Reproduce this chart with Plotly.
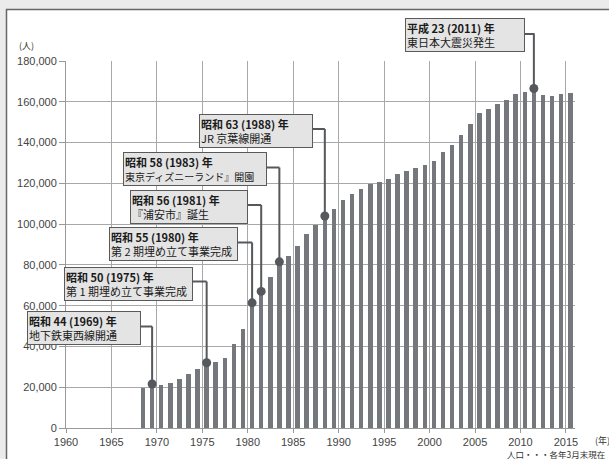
import plotly.graph_objects as go

# ---------------- data ----------------
years = list(range(1968, 2016))
population = [19700, 21600, 21000, 22200, 24100, 26600, 28900, 32000, 32300, 34200,
              41200, 48400, 61400, 67000, 74000, 81500, 84300, 89400, 95200, 99500,
              104000, 107400, 111800, 115000, 117200, 119600, 120800, 122200, 124400, 126200,
              127600, 129000, 130800, 135200, 138900, 143800, 149200, 154300, 156400, 158700,
              160800, 163700, 164700, 166500, 163400, 162900, 163600, 164400]

event_years = [1969, 1975, 1980, 1981, 1983, 1988, 2011]
event_titles = ["昭和 44 (1969) 年", "昭和 50 (1975) 年", "昭和 55 (1980) 年",
                "昭和 56 (1981) 年", "昭和 58 (1983) 年", "昭和 63 (1988) 年",
                "平成 23 (2011) 年"]
event_texts = ["地下鉄東西線開通", "第 1 期埋め立て事業完成", "第 2 期埋め立て事業完成",
               "『浦安市』誕生", "東京ディズニーランド』開園", "JR 京葉線開通",
               "東日本大震災発生"]

x_ticks = list(range(1960, 2016, 5))
y_unit = "(人)"
x_unit = "(年)"
source_note = "人口・・・各年3月末現在"

# ---------------- layout constants ----------------
W, H = 609, 459
L, R, T, B = 66, 34, 61, 31
PW, PH = W - L - R, H - T - B
XMIN, XMAX = 1960, 2016
YMAX = 180000
BAR_OFFSET, BAR_WIDTH = 0.225, 0.5
CENTER = BAR_OFFSET + BAR_WIDTH / 2

def px2x(px):
    return (px - L) / PW

def py2y(py):
    return (H - B - py) / PH

def px2data_x(px):
    return XMIN + (px - L) / PW * (XMAX - XMIN)

# callout boxes in pixels: left, top, right, bottom ; font size of 2nd line
boxes = [(27, 311, 141, 342), (64, 267, 193, 296), (109, 227, 238, 258),
         (130, 190, 248, 220), (123, 152, 267, 183), (199, 114, 313, 144),
         (405, 18, 525, 50)]
line2_sizes = [11, 11, 11, 11, 10, 11, 11]

BAR_COLOR = "#74777b"
LINE_COLOR = "#55585c"
GRID = "#a8a8a8"
FONT = "Arial, Liberation Sans, Noto Sans CJK JP, sans-serif"
JFONT = "Noto Sans CJK JP, sans-serif"

fig = go.Figure()
fig.add_trace(go.Bar(x=years, y=population, offset=BAR_OFFSET, width=BAR_WIDTH,
                     marker=dict(color=BAR_COLOR, line=dict(width=0)),
                     hoverinfo="x+y"))

ev_vals = [population[years.index(y)] for y in event_years]
fig.add_trace(go.Scatter(x=[y + CENTER for y in event_years], y=ev_vals, mode="markers",
                         marker=dict(size=9, color=LINE_COLOR), cliponaxis=False,
                         hoverinfo="skip"))

shapes = []
# frame
shapes.append(dict(type="rect", xref="paper", yref="paper", x0=px2x(0), x1=px2x(W),
                   y0=py2y(9), y1=py2y(0), fillcolor="#ebebeb", line=dict(width=0), layer="below"))
shapes.append(dict(type="rect", xref="paper", yref="paper", x0=px2x(0), x1=px2x(6),
                   y0=py2y(H), y1=py2y(9), fillcolor="#ebebeb", line=dict(width=0), layer="below"))
shapes.append(dict(type="line", xref="paper", yref="paper", x0=px2x(6), x1=px2x(W),
                   y0=py2y(9.5), y1=py2y(9.5), line=dict(color="#666", width=1.5)))
shapes.append(dict(type="line", xref="paper", yref="paper", x0=px2x(6.5), x1=px2x(6.5),
                   y0=py2y(H), y1=py2y(9), line=dict(color="#666", width=1.5)))

annotations = []
for yr, val, title, txt, fs, (bl, bt, br, bb) in zip(event_years, ev_vals, event_titles,
                                                    event_texts, line2_sizes, boxes):
    xc = yr + CENTER
    ymid_py = (bt + bb) / 2
    ymid_p = py2y(ymid_py)
    shapes.append(dict(type="line", xref="x", yref="paper", x0=px2data_x(br), x1=xc,
                       y0=ymid_p, y1=ymid_p, line=dict(color=LINE_COLOR, width=2)))
    if ymid_p > 1:
        shapes.append(dict(type="line", xref="x", yref="paper", x0=xc, x1=xc,
                           y0=1, y1=ymid_p + 0.002, line=dict(color=LINE_COLOR, width=2)))
    shapes.append(dict(type="line", xref="x", yref="y", x0=xc, x1=xc,
                       y0=min(ymid_p, 1) * YMAX, y1=val, line=dict(color=LINE_COLOR, width=2)))
    annotations.append(dict(xref="paper", yref="paper", x=px2x(bl), y=py2y(bt),
                            xanchor="left", yanchor="top", showarrow=False, align="left",
                            text=f"<b>{title}</b><br><span style='font-size:{fs}px'>{txt}</span>",
                            width=br - bl - 4,
                            font=dict(family=JFONT, size=11, color="#1a1a1a"),
                            bgcolor="#e4e4e4", bordercolor="#5a5a5a", borderwidth=1, borderpad=1))

annotations.append(dict(xref="paper", yref="paper", x=px2x(26), y=py2y(46), text=y_unit,
                        xanchor="center", yanchor="middle",
                        showarrow=False, font=dict(family=JFONT, size=9, color="#333")))
annotations.append(dict(xref="paper", yref="paper", x=px2x(602), y=py2y(440), text=x_unit,
                        xanchor="center", yanchor="middle",
                        showarrow=False, font=dict(family=JFONT, size=9, color="#333")))
annotations.append(dict(xref="paper", yref="paper", x=px2x(607), y=py2y(453.5), text=source_note,
                        xanchor="right", yanchor="middle", showarrow=False,
                        font=dict(family=JFONT, size=8.5, color="#333")))

fig.update_layout(
    width=W, height=H, margin=dict(l=L, r=R, t=T, b=B),
    paper_bgcolor="white", plot_bgcolor="white", showlegend=False,
    separators=".,",
    font=dict(family=FONT, size=11, color="#444"),
    shapes=shapes, annotations=annotations,
    xaxis=dict(range=[XMIN, XMAX], tickvals=x_ticks, showgrid=True, gridcolor=GRID,
               gridwidth=1, showline=True, linecolor="#999", linewidth=1, ticks="outside",
               ticklen=4, tickcolor="#999", zeroline=False,
               tickfont=dict(family=FONT, size=11, color="#444")),
    yaxis=dict(range=[0, YMAX], dtick=20000, tickformat=",", showgrid=True, gridcolor=GRID,
               gridwidth=1, showline=True, linecolor="#999", linewidth=1, ticks="outside",
               ticklen=6, tickcolor="#999", zeroline=False,
               tickfont=dict(family=FONT, size=11, color="#444")),
    bargap=0,
)

fig.write_html("out.html")
